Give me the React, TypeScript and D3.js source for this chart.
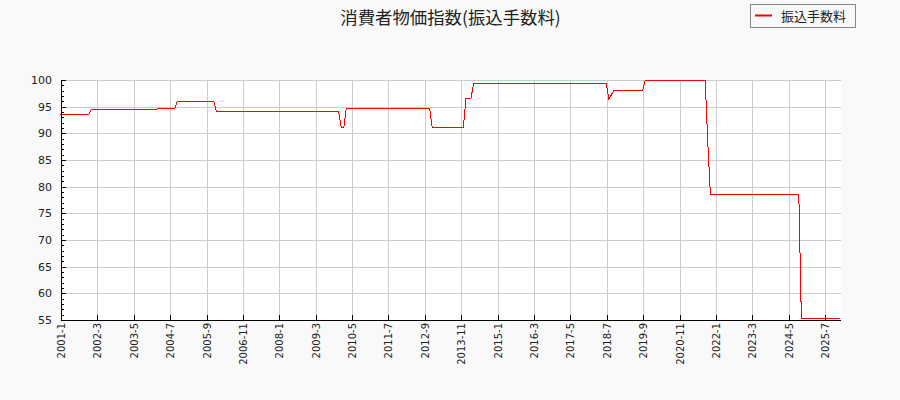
import React from "react";
import * as d3 from "d3";

const TITLE = "消費者物価指数(振込手数料)";
const SERIES_NAME = "振込手数料";

// Key months (index of months since 2001-1) where the series value is read; line is drawn through these points
const monthIndex = [0, 11, 12, 37, 38, 44, 45, 59, 60, 107, 108, 109, 110, 142, 143, 155, 156, 158, 159, 210, 211, 212, 213, 224, 225, 248, 249, 250, 284, 285, 300];
const values = [93.6, 93.6, 94.5, 94.5, 94.7, 94.7, 96.0, 96.0, 94.1, 94.1, 91.1, 91.1, 94.7, 94.7, 91.1, 91.1, 96.6, 96.6, 99.4, 99.4, 96.4, 97.3, 98.1, 98.1, 100.0, 100.0, 88.5, 78.6, 78.6, 55.3, 55.3];

const xTickLabels = ["2001-1", "2002-3", "2003-5", "2004-7", "2005-9", "2006-11", "2008-1", "2009-3", "2010-5", "2011-7", "2012-9", "2013-11", "2015-1", "2016-3", "2017-5", "2018-7", "2019-9", "2020-11", "2022-1", "2023-3", "2024-5", "2025-7"];
const yTicks = [55, 60, 65, 70, 75, 80, 85, 90, 95, 100];
const yMinorTicks = d3.range(55, 101, 1);

const W = 900, H = 400;
const M = { left: 61, right: 841, top: 80, bottom: 320 };

const toDate = (i: number) => new Date(2001, i, 1);
const parseLabel = (s: string) => {
  const [y, m] = s.split("-").map(Number);
  return new Date(y, m - 1, 1);
};

export default function App() {
  const x = d3.scaleTime().domain([toDate(0), toDate(300)]).range([M.left, M.right]);
  const y = d3.scaleLinear().domain([55, 100]).range([M.bottom, M.top]);
  const pts = monthIndex.map((m, i) => ({ d: toDate(m), v: values[i] }));
  const line = d3.line<{ d: Date; v: number }>().x((p) => x(p.d) - 0.6).y((p) => y(p.v));
  const xt = xTickLabels.map((l) => ({ l, px: Math.round(x(parseLabel(l))) + 0.5 }));

  return (
    <svg width={W} height={H} style={{ position: "absolute", left: 0, top: 0, background: "#f9f9f9" }}>
      <rect x={M.left} y={M.top} width={M.right - M.left} height={M.bottom - M.top} fill="#ffffff" />
      <g stroke="#cccccc" strokeWidth={1} shapeRendering="crispEdges">
        {xt.map((t) => (
          <line key={t.l} x1={t.px} x2={t.px} y1={M.top} y2={M.bottom} />
        ))}
        {yTicks.map((v) => (
          <line key={v} x1={M.left} x2={M.right} y1={Math.round(y(v)) + 0.5} y2={Math.round(y(v)) + 0.5} />
        ))}
      </g>
      <path d={line(pts) || ""} fill="none" stroke="#ff0000" strokeWidth={1} shapeRendering="crispEdges" />
      <g stroke="#000" strokeWidth={1} shapeRendering="crispEdges">
        <line x1={M.left + 0.5} x2={M.left + 0.5} y1={M.top} y2={M.bottom + 1} />
        <line x1={M.left} x2={M.right} y1={M.bottom + 0.5} y2={M.bottom + 0.5} />
        {yMinorTicks.map((v) => (
          <line key={v} x1={M.left} x2={M.left + (v % 5 === 0 ? 5 : 3)} y1={Math.round(y(v)) + 0.5} y2={Math.round(y(v)) + 0.5} />
        ))}
        {xt.map((t) => (
          <line key={t.l} x1={t.px} x2={t.px} y1={M.bottom - 5} y2={M.bottom} />
        ))}
      </g>
      <g fontFamily="DejaVu Sans" fontSize={11} fill="#222" textAnchor="end">
        {yTicks.map((v) => (
          <text key={v} x={52} y={y(v)} dy="0.35em">{v}</text>
        ))}
      </g>
      <g fontFamily="DejaVu Sans" fontSize={10} fill="#222" textAnchor="end">
        {xt.map((t) => (
          <text key={t.l} transform={`translate(${t.px},${M.bottom + 3}) rotate(-90)`} dy="0.35em">{t.l}</text>
        ))}
      </g>
      <text x={450.5} y={24} textAnchor="middle" fontFamily="Noto Sans CJK JP" fontSize={17.4} fill="#222">{TITLE}</text>
      <rect x={750.5} y={4.5} width={105} height={23} fill="#f9f9f9" stroke="#888" shapeRendering="crispEdges" />
      <line x1={755} x2={772} y1={15.5} y2={15.5} stroke="#ff0000" strokeWidth={2} />
      <text x={781} y={20.5} fontFamily="Noto Sans CJK JP" fontSize={13} fill="#222">{SERIES_NAME}</text>
    </svg>
  );
}
